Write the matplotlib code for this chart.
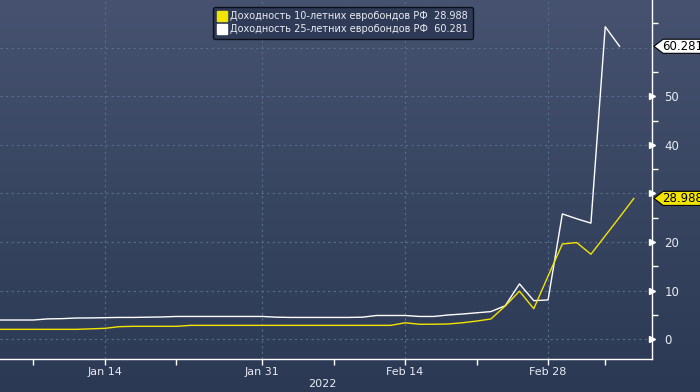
import numpy as np
import pandas as pd
import matplotlib
matplotlib.use("Agg")
import matplotlib.pyplot as plt
from matplotlib.lines import Line2D
from matplotlib.patches import Polygon
import matplotlib.transforms as mtransforms

# ---- data (business days, Jan 3 - Mar 8 2022) ----
dates = pd.bdate_range("2022-01-03", "2022-03-08")

y10 = [2.05, 2.05, 2.05, 2.05, 2.05, 2.05, 2.05, 2.05, 2.15, 2.26,
       2.6, 2.67, 2.67, 2.67, 2.67, 2.87, 2.87, 2.87, 2.87, 2.87,
       2.87, 2.87, 2.87, 2.87, 2.87, 2.87, 2.87, 2.87, 2.87, 2.87,
       3.4, 3.1, 3.1, 3.15, 3.4, 3.75, 4.18, 6.85, 9.9, 6.3,
       13.0, 19.6, 19.9, 17.5, 21.3, 25.1, 28.988]
y25 = [3.97, 3.97, 3.97, 3.97, 3.97, 4.2, 4.25, 4.38, 4.4, 4.45,
       4.5, 4.5, 4.55, 4.6, 4.7, 4.7, 4.7, 4.7, 4.7, 4.7,
       4.7, 4.55, 4.5, 4.5, 4.5, 4.5, 4.5, 4.55, 4.9, 4.9,
       4.9, 4.7, 4.7, 5.0, 5.2, 5.45, 5.7, 6.9, 11.4, 7.95,
       8.1, 25.8, 24.8, 23.9, 64.3, 60.281, np.nan]

names = ["Доходность 10-летних евробондов РФ  28.988",
         "Доходность 25-летних евробондов РФ  60.281"]
last10 = 28.988
last25 = 60.281

major_dates = ["2022-01-14", "2022-01-31", "2022-02-14", "2022-02-28"]
major_labels = ["Jan 14", "Jan 31", "Feb 14", "Feb 28"]
minor_dates = ["2022-01-07", "2022-01-21", "2022-02-07", "2022-02-21", "2022-03-04"]
yticks = [0, 10, 20, 30, 40, 50]
ylabels = ["0", "10", "20", "", "40", "50"]   # 30 sits under the 28.988 tag

# ---- styling ----
YEL = "#f2e400"
WHT = "#ffffff"
GRID = "#55708a"
TXT = "#e8ecf2"

x = np.arange(len(dates))
pos = {d.strftime("%Y-%m-%d"): i for i, d in enumerate(dates)}

fig = plt.figure(figsize=(7, 3.92), dpi=100)

# gradient background
bg = fig.add_axes([0, 0, 1, 1], zorder=-10)
grad = np.linspace(0, 1, 256).reshape(-1, 1)
top = np.array(matplotlib.colors.to_rgb("#46526f"))
bot = np.array(matplotlib.colors.to_rgb("#2b3954"))
img = top[None, None, :] * (1 - grad[:, :, None]) + bot[None, None, :] * grad[:, :, None]
bg.imshow(img, aspect="auto", extent=[0, 1, 0, 1])
bg.axis("off")

ax = fig.add_axes([0, 0.0842, 0.9314, 0.9158])
ax.patch.set_alpha(0)

ax.plot(x, y25, color=WHT, lw=1.0, zorder=3)
ax.plot(x, y10, color=YEL, lw=1.0, zorder=4)

ax.set_xlim(1.66, 47.27)
ax.set_ylim(-4.05, 69.8)

for s in ["left", "top"]:
    ax.spines[s].set_visible(False)
for s in ["bottom", "right"]:
    ax.spines[s].set_color("white")
    ax.spines[s].set_linewidth(1.0)

# x axis
ax.set_xticks([pos[d] for d in major_dates])
ax.set_xticklabels(major_labels)
ax.set_xticks([pos[d] for d in minor_dates], minor=True)
ax.tick_params(axis="x", which="both", direction="out", length=4, width=1,
               color="white", labelcolor=TXT, labelsize=8, pad=1.5)
ax.text(0.495, -0.07, "2022", transform=ax.transAxes, ha="center", va="center",
        color=TXT, fontsize=8)

# y axis on right
ax.yaxis.tick_right()
ax.set_yticks(yticks)
ax.set_yticklabels(ylabels)
ax.set_yticks(np.arange(5, 70, 10), minor=True)
ax.tick_params(axis="y", which="major", length=0, pad=9,
               labelcolor=TXT, labelsize=8.5)
ax.tick_params(axis="y", which="minor", direction="out", length=4, width=1, color="white")
ax.plot([1.0] * len(yticks), yticks, ">", ms=4.5, color="white",
        transform=ax.get_yaxis_transform(), clip_on=False, zorder=6)

# grid
ax.grid(True, which="major", axis="both", color=GRID, ls=(0, (2, 3)), lw=0.8)
ax.set_axisbelow(True)
ax.axhline(60, color=GRID, ls=(0, (2, 3)), lw=0.8, zorder=0)

# last value tags
trans = mtransforms.blended_transform_factory(ax.transAxes, ax.transData)
for val, fc in [(last25, WHT), (last10, YEL)]:
    h = 1.45
    poly = Polygon([(1.003, val), (1.017, val + h), (1.12, val + h),
                    (1.12, val - h), (1.017, val - h)], closed=True,
                   transform=trans, facecolor=fc, edgecolor="black", lw=0.8,
                   clip_on=False, zorder=7)
    ax.add_patch(poly)
    ax.text(1.016, val, f"{val:.3f}", transform=trans, ha="left", va="center",
            color="black", fontsize=8.5, zorder=8, clip_on=False)

# legend
handles = [Line2D([], [], ls="none", marker="s", ms=7, color=YEL),
           Line2D([], [], ls="none", marker="s", ms=7, color=WHT)]
leg = fig.legend(handles, names, loc="upper center", bbox_to_anchor=(0.49, 0.995),
                 fontsize=7.0, frameon=True, handlelength=0.8, handletextpad=0.5,
                 borderpad=0.45, labelspacing=0.3, fancybox=True)
leg.get_frame().set_facecolor("#2f3a56")
leg.get_frame().set_edgecolor("#0c1018")
leg.get_frame().set_alpha(1)
for t in leg.get_texts():
    t.set_color(TXT)

fig.savefig("out.png", dpi=100)
